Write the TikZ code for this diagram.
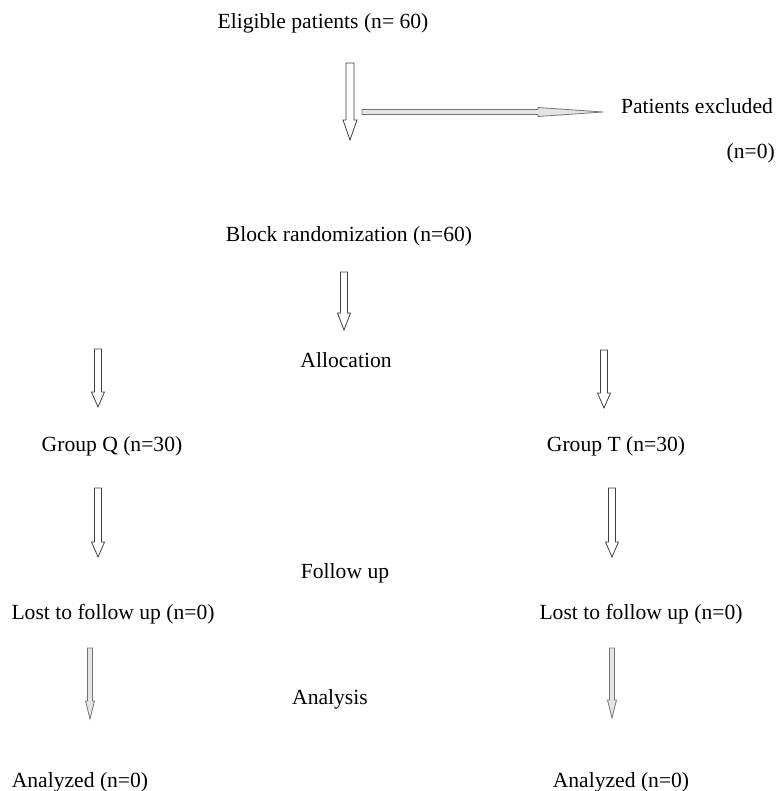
\documentclass[tikz,border=0pt]{standalone}
\usepackage{fontspec}
\setmainfont{Liberation Serif}
\usetikzlibrary{calc}

% hollow block arrow between two coordinates:
% #1 options, #2 start, #3 end, #4 shaft half width, #5 head half width, #6 head length (all in pt)
\newcommand{\blockarrow}[6][]{%
  \draw[#1] ($(#2)!#4pt!90:(#3)$) -- ($($(#3)!#6pt!(#2)$)!#4pt!90:(#3)$)
    -- ($($(#3)!#6pt!(#2)$)!#5pt!90:(#3)$) -- (#3)
    -- ($($(#3)!#6pt!(#2)$)!#5pt!-90:(#3)$) -- ($($(#3)!#6pt!(#2)$)!#4pt!-90:(#3)$)
    -- ($(#2)!#4pt!-90:(#3)$) -- cycle;}

\tikzset{
  label/.style={font=\fontsize{21.6}{25}\selectfont, inner sep=0pt, text height=14pt, text depth=4pt},
  hollow/.style={draw=black!75, line width=0.8pt, fill=white},
  slim/.style={draw=black!55, line width=0.8pt, fill=black!10}
}

\begin{document}
\begin{tikzpicture}[x=1pt, y=-1pt]
  \useasboundingbox (0,0) rectangle (778,791);

  % texts
  \node[label] (elig) at (323,24) {Eligible patients (n= 60)};
  \node[label] (excl) at (697,109) {Patients excluded};
  \node[label, anchor=east] (excln) at (775,154) {(n=0)};
  \node[label] (block) at (349,237) {Block randomization (n=60)};
  \node[label] (alloc) at (346,362) {Allocation};
  \node[label] (grpq) at (112,446) {Group Q (n=30)};
  \node[label] (grpt) at (616,446) {Group T (n=30)};
  \node[label] (follow) at (345,573) {Follow up};
  \node[label] (lostq) at (113,614) {Lost to follow up (n=0)};
  \node[label] (lostt) at (641,614) {Lost to follow up (n=0)};
  \node[label] (anal) at (330,699) {Analysis};
  \node[label] (doneq) at (80,782) {Analyzed (n=0)};
  \node[label] (donet) at (621,782) {Analyzed (n=0)};

  % arrow end points
  \coordinate (a1s) at (350,63);  \coordinate (a1e) at (350,140);
  \coordinate (x1s) at (362,112); \coordinate (x1e) at (603,112);
  \coordinate (a2s) at (344,272); \coordinate (a2e) at (344,330);
  \coordinate (q1s) at (98,349);  \coordinate (q1e) at (98,407);
  \coordinate (t1s) at (604,350); \coordinate (t1e) at (604,408);
  \coordinate (q2s) at (98,488);  \coordinate (q2e) at (98,557);
  \coordinate (t2s) at (612,488); \coordinate (t2e) at (612,557);
  \coordinate (q3s) at (90,648);  \coordinate (q3e) at (90,719);
  \coordinate (t3s) at (612,648); \coordinate (t3e) at (612,718);

  % arrows
  \blockarrow[hollow]{a1s}{a1e}{4}{7}{20}
  \blockarrow[slim]{x1s}{x1e}{2.5}{4.5}{65}
  \blockarrow[hollow]{a2s}{a2e}{3.5}{6.5}{17}
  \blockarrow[hollow]{q1s}{q1e}{3.5}{6.5}{15}
  \blockarrow[hollow]{t1s}{t1e}{3.5}{6.5}{15}
  \blockarrow[hollow]{q2s}{q2e}{3.5}{6.5}{15}
  \blockarrow[hollow]{t2s}{t2e}{3.5}{6.5}{15}
  \blockarrow[slim]{q3s}{q3e}{2.5}{4.5}{18}
  \blockarrow[slim]{t3s}{t3e}{2.5}{4.5}{18}
\end{tikzpicture}
\end{document}
